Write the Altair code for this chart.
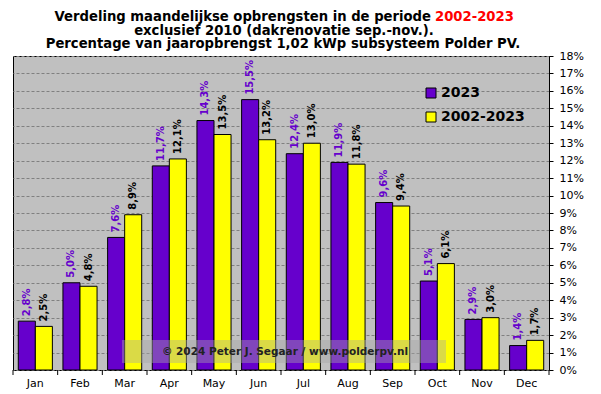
import altair as alt
import pandas as pd

months = ["Jan", "Feb", "Mar", "Apr", "May", "Jun", "Jul", "Aug", "Sep", "Oct", "Nov", "Dec"]
v2023 = [2.8, 5.0, 7.6, 11.7, 14.3, 15.5, 12.4, 11.9, 9.6, 5.1, 2.9, 1.4]
vavg = [2.5, 4.8, 8.9, 12.1, 13.5, 13.2, 13.0, 11.8, 9.4, 6.1, 3.0, 1.7]
series = ["2023", "2002-2023"]
colors = ["#6600CC", "#FFFF00"]
label_colors = ["#6600CC", "#000000"]
y_ticks = list(range(0, 19))
title_lines = [
    "exclusief 2010 (dakrenovatie sep.-nov.).",
    "Percentage van jaaropbrengst 1,02 kWp subsysteem Polder PV.",
]
title_first_black = "Verdeling maandelijkse opbrengsten in de periode"
title_first_red = "2002-2023"
watermark = "© 2024 Peter J. Segaar / www.polderpv.nl"

rows = []
for s, vals, lc in zip(series, [v2023, vavg], label_colors):
    for m, v in zip(months, vals):
        rows.append({"month": m, "series": s, "value": v,
                     "label": f"{v:.1f}".replace(".", ",") + "%", "lc": lc})
df = pd.DataFrame(rows)

W, H = 536, 314
FONT = "DejaVu Sans"
TFS = 13.2

xscale = alt.Scale(domain=months, paddingInner=0, paddingOuter=0)
x = alt.X("month:N", sort=months, scale=xscale,
          axis=alt.Axis(title=None, ticks=False, domain=False, labelAngle=0,
                        labelFont=FONT, labelFontSize=11, labelColor="black",
                        labelPadding=7, grid=False))
xo = alt.XOffset("series:N", sort=series,
                 scale=alt.Scale(domain=series, paddingOuter=0.31, paddingInner=0))
y = alt.Y("value:Q", scale=alt.Scale(domain=[0, 18], nice=False),
          axis=alt.Axis(orient="right", title=None, values=y_ticks,
                        labelExpr="datum.value + '%'", grid=True, gridDash=[3, 2],
                        gridColor="#808080", gridOpacity=1, tickColor="black", tickSize=4,
                        domainColor="black", labelFont=FONT, labelFontSize=11,
                        labelColor="black", labelPadding=6))

bars = alt.Chart(df).mark_bar(stroke="black", strokeWidth=1, opacity=1).encode(
    x=x, xOffset=xo, y=y,
    color=alt.Color("series:N", sort=series,
                    scale=alt.Scale(domain=series, range=colors),
                    legend=alt.Legend(orient="none", legendX=411, legendY=30, title=None,
                                      symbolType="square", symbolSize=100,
                                      symbolStrokeColor="black", symbolStrokeWidth=1,
                                      symbolOpacity=1,
                                      labelFont=FONT, labelFontWeight="bold",
                                      labelFontSize=14, labelColor="black",
                                      rowPadding=10, labelOffset=3)),
)

labels = alt.Chart(df).mark_text(angle=270, align="left", baseline="middle", dx=5,
                                 font=FONT, fontWeight="bold", fontSize=10).encode(
    x=x, xOffset=xo, y=y, text="label:N",
    color=alt.Color("lc:N", scale=None),
)

ticks = alt.Chart(pd.DataFrame({"month": months})).mark_rule(color="black").encode(
    x=alt.X("month:N", sort=months, scale=xscale, bandPosition=0),
    y=alt.value(H), y2=alt.value(H + 5),
)
tick_end = alt.Chart(pd.DataFrame({"month": ["Dec"]})).mark_rule(color="black").encode(
    x=alt.value(W), y=alt.value(H), y2=alt.value(H + 5),
)

wm_rect = alt.Chart(pd.DataFrame({"t": [watermark]})).mark_rect(
    color="#A7A7A7", opacity=0.42).encode(
    x=alt.value(109), x2=alt.value(433), y=alt.value(284), y2=alt.value(307))
wm_text = alt.Chart(pd.DataFrame({"t": [watermark]})).mark_text(
    font=FONT, fontWeight="bold", fontSize=10.5, color="#222222",
    align="center", baseline="middle").encode(
    text="t:N", x=alt.value(272), y=alt.value(296))

t1a = alt.Chart(pd.DataFrame({"t": [title_first_black]})).mark_text(
    font=FONT, fontWeight="bold", fontSize=TFS, color="black",
    align="right", baseline="middle").encode(text="t:N", x=alt.value(418), y=alt.value(-39))
t1b = alt.Chart(pd.DataFrame({"t": [title_first_red]})).mark_text(
    font=FONT, fontWeight="bold", fontSize=TFS, color="#FF0000",
    align="left", baseline="middle").encode(text="t:N", x=alt.value(422), y=alt.value(-39))
t2 = alt.Chart(pd.DataFrame({"t": [title_lines[0]]})).mark_text(
    font=FONT, fontWeight="bold", fontSize=TFS, color="black",
    align="center", baseline="middle").encode(text="t:N", x=alt.value(271), y=alt.value(-25.5))
t3 = alt.Chart(pd.DataFrame({"t": [title_lines[1]]})).mark_text(
    font=FONT, fontWeight="bold", fontSize=TFS, color="black",
    align="center", baseline="middle").encode(text="t:N", x=alt.value(270), y=alt.value(-12))

chart = alt.layer(bars, labels, ticks, tick_end, wm_rect, wm_text, t1a, t1b, t2, t3).properties(
    width=W, height=H,
    autosize=alt.AutoSizeParams(type="none"),
    padding={"left": 5, "top": 48, "right": 44, "bottom": 22},
    background="white",
).configure_view(fill="#C0C0C0", stroke="black", strokeWidth=1)

chart.save("out.html", embed_options={"renderer": "svg", "actions": False})
